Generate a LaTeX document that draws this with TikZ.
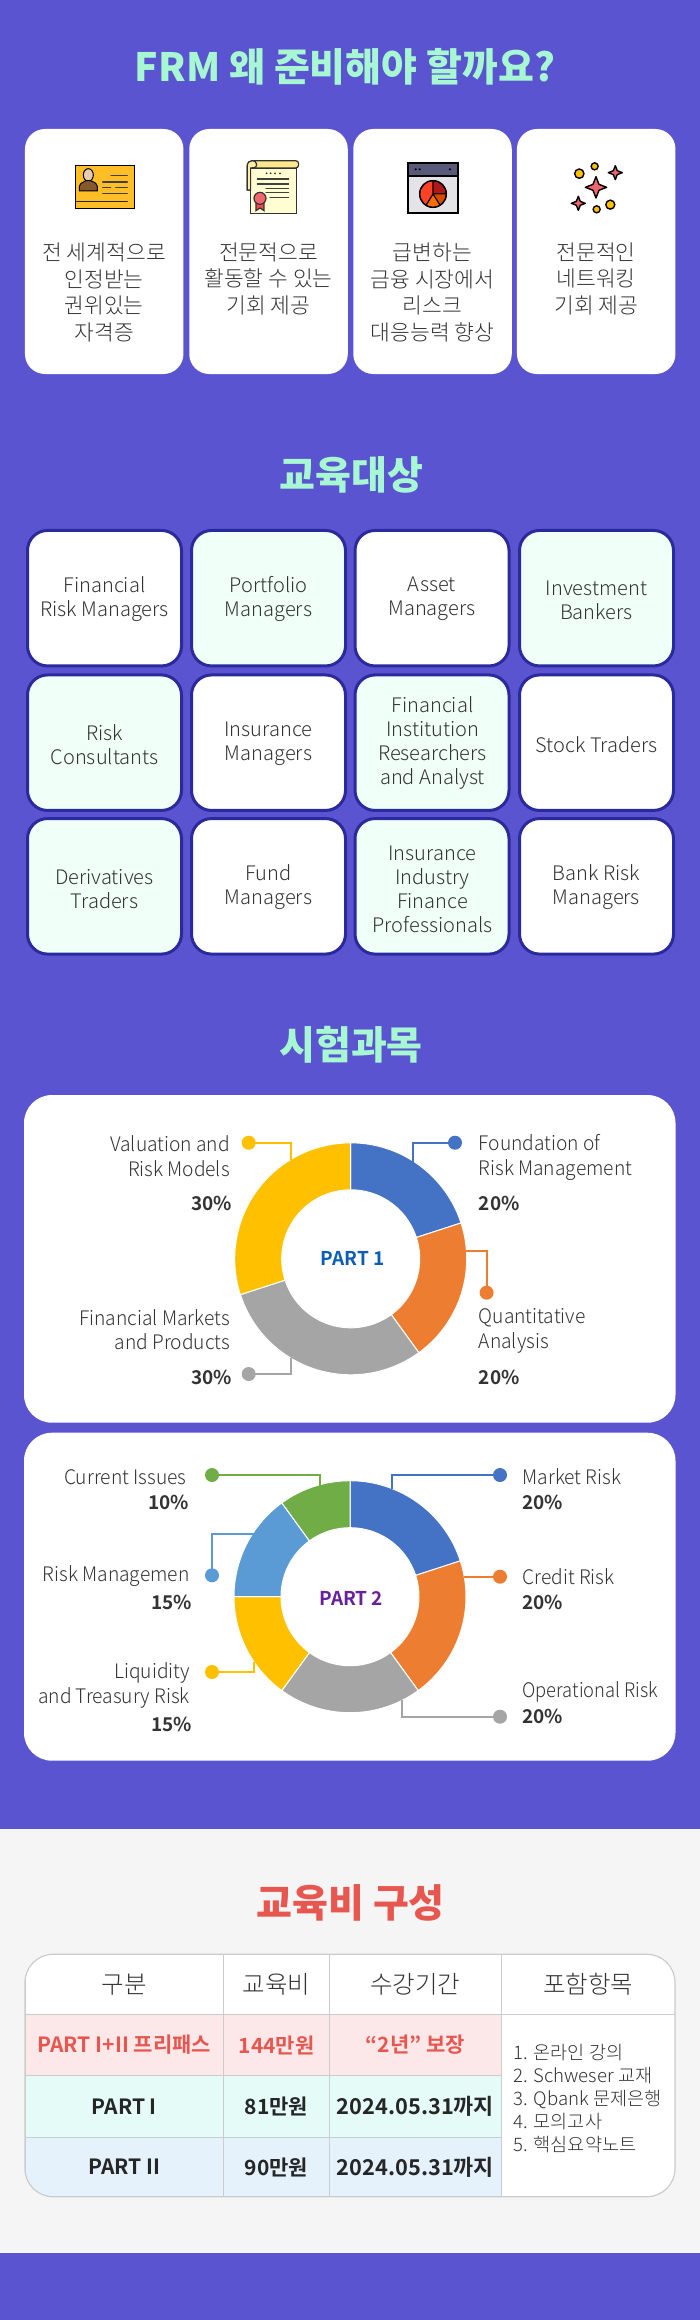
\documentclass[tikz,border=0pt]{standalone}
\usepackage{fontspec}
\setmainfont{Noto Sans CJK KR}
\newfontfamily\kl{Noto Sans CJK KR Light}
\newfontfamily\kln[FakeStretch=0.96]{Noto Sans CJK KR Light}
\newfontfamily\klnn[FakeStretch=0.915]{Noto Sans CJK KR Light}
\newfontfamily\kb{Noto Sans CJK KR Black}
\newfontfamily\kr{Noto Sans CJK KR}
\newfontfamily\kbold{Noto Sans CJK KR Bold}
\definecolor{bgp}{HTML}{5A54D0}
\definecolor{mint}{HTML}{A6F7D2}
\definecolor{edgeb}{HTML}{2B2A9C}
\definecolor{lmint}{HTML}{F0FFF8}
\definecolor{lgray}{HTML}{F5F5F5}
\definecolor{redt}{HTML}{E8574F}
\definecolor{tline}{HTML}{CCCCCC}
\definecolor{rowa}{HTML}{FCE8E8}
\definecolor{rowb}{HTML}{E4FBF7}
\definecolor{rowc}{HTML}{E5F1FB}
\definecolor{cblue}{HTML}{4472C4}
\definecolor{corange}{HTML}{ED7D31}
\definecolor{cgray}{HTML}{A5A5A5}
\definecolor{cyellow}{HTML}{FFC000}
\definecolor{clblue}{HTML}{5B9BD5}
\definecolor{cgreen}{HTML}{70AD47}
\definecolor{partb}{HTML}{0B5DB5}
\definecolor{partp}{HTML}{6A1F9B}
\definecolor{txt}{HTML}{333333}
\definecolor{sparkc}{HTML}{F0656E}
\newcommand{\lstrut}{\rule[-0.13em]{0pt}{1em}}
\newcommand{\donutseg}[5]{\fill[#5,draw=white,line width=1pt,line join=round] plot[domain=#3:#4,samples=40] ({#1+116*sin(\x)},{#2-116*cos(\x)}) -- plot[domain=#4:#3,samples=40] ({#1+69*sin(\x)},{#2-69*cos(\x)}) -- cycle;}
\newcommand{\wedgeseg}[3]{\fill[#3,draw=black,line width=1pt,line join=round] (249,162) -- plot[domain=#1:#2,samples=20] ({249+40*sin(\x)},{162-40*cos(\x)}) -- cycle;}
\newcommand{\sparkle}[3]{\filldraw[fill=sparkc,draw=black,line width=1.4pt,line join=round] ({#1},{#2-#3}) -- ({#1+.28*#3},{#2-.28*#3}) -- ({#1+#3},{#2}) -- ({#1+.28*#3},{#2+.28*#3}) -- ({#1},{#2+#3}) -- ({#1-.28*#3},{#2+.28*#3}) -- ({#1-#3},{#2}) -- ({#1-.28*#3},{#2-.28*#3}) -- cycle;}
\tikzset{
  titlet/.style={font=\kb\fontsize{39}{44}\selectfont,text=mint,inner sep=0pt},
  card/.style={fill=white,rounded corners=20pt,minimum width=158.5pt,minimum height=245pt,inner sep=0pt},
  cardt/.style={font=\kl\fontsize{21.5}{26.6}\selectfont,text=txt,align=center,inner sep=0pt,yshift=-1pt,
    execute at begin node=\lstrut,execute at end node=\lstrut},
  tbox/.style={draw=edgeb,line width=3pt,rounded corners=20pt,minimum width=154pt,minimum height=135.5pt,inner sep=0pt},
  tboxt/.style={font=\kl\fontsize{20}{24}\selectfont,text=txt,align=center,inner sep=0pt,yshift=-1.5pt,
    execute at begin node=\lstrut,execute at end node=\lstrut},
  panel/.style={fill=white,rounded corners=28pt,inner sep=0pt},
  lblr/.style={font=\kln\fontsize{20}{24.5}\selectfont,text=txt,align=right,anchor=east,inner sep=0pt,yshift=-1.5pt,
    execute at begin node=\lstrut,execute at end node=\lstrut},
  lbll/.style={font=\kln\fontsize{20}{24.5}\selectfont,text=txt,align=left,anchor=west,inner sep=0pt,yshift=-1.5pt,
    execute at begin node=\lstrut,execute at end node=\lstrut},
  pctr/.style={font=\kbold\fontsize{19}{24}\selectfont,text=txt,anchor=east,inner sep=0pt,
    execute at begin node=\lstrut,execute at end node=\lstrut},
  pctl/.style={font=\kbold\fontsize{19}{24}\selectfont,text=txt,anchor=west,inner sep=0pt,
    execute at begin node=\lstrut,execute at end node=\lstrut},
  part/.style={font=\kbold\fontsize{19}{24}\selectfont,inner sep=0pt},
  dotn/.style={circle,fill=#1,minimum size=14pt,inner sep=0pt},
  conn/.style={draw=#1,line width=2pt},
  tcell/.style={draw=tline,line width=1pt,inner sep=0pt,outer sep=0pt},
  thead/.style={tcell,fill=white,font=\kl\fontsize{24.5}{28}\selectfont,text=txt},
  trow/.style={tcell,font=\kbold\fontsize{21}{26}\selectfont,text=black!85},
  tdate/.style={tcell,font=\kbold\fontsize{21.8}{26}\selectfont,text=black!85},
  ic/.style={line width=1.2pt,line cap=round},
}
\begin{document}
\begin{tikzpicture}[x=1pt,y=-1pt]
\useasboundingbox (0,0) rectangle (700,2320);
\fill[bgp] (0,0) rectangle (700,2320);
\fill[lgray] (0,1829) rectangle (700,2252.7);

% section 1
\node[titlet] (t1) at (345,66.5) {FRM 왜 준비해야 할까요?};
\node[card] (c1) at (104.2,251.5) {};
\node[card] (c2) at (268.5,251.5) {};
\node[card] (c3) at (432.5,251.5) {};
\node[card] (c4) at (596.2,251.5) {};
\node[cardt] (c1t) at (104.2,292) {전 세계적으로\\인정받는\\권위있는\\자격증};
\node[cardt] (c2t) at (268.5,278.5) {전문적으로\\활동할 수 있는\\기회 제공};
\node[cardt] (c3t) at (432.5,292) {급변하는\\금융 시장에서\\리스크\\대응능력 향상};
\node[cardt] (c4t) at (596.2,278.5) {전문적인\\네트워킹\\기회 제공};

% icon 1
\begin{scope}[shift={(50,140)},x=0.3333pt,y=-0.3333pt]
\filldraw[fill=orange!60!yellow!85!white,draw=black,line width=1.3pt] (76,76) rectangle (254,206);
\filldraw[fill=brown!40!white,draw=black,line width=1pt] (115,105) ellipse[x radius=15,y radius=19];
\filldraw[fill=brown!70!black,draw=black,line width=1pt] (88,153) -- (88,140) .. controls (90,128) and (102,126) .. (108,122) -- (122,122) .. controls (130,126) and (140,128) .. (142,140) -- (142,153) -- cycle;
\draw[black!75,ic] (183,107) -- (232,107);
\draw[black!75,ic] (158,126) -- (232,126);
\draw[black!75,ic] (158,143) -- (182,143);
\draw[black!75,ic] (197,143) -- (232,143);
\draw[black!75,ic] (158,161) -- (232,161);
\draw[black!85,ic] (80,185) -- (232,185);
\end{scope}

% icon 2
\begin{scope}[shift={(50,140)},x=0.3333pt,y=-0.3333pt]
\filldraw[fill=orange!40!yellow!35!white,draw=black!80,line width=1.2pt] (592,150) -- (592,75) .. controls (592,66) and (600,62) .. (608,62) -- (620,62) -- (620,150) -- cycle;
\filldraw[fill=orange!8!yellow!18!white,draw=black!80,line width=1.2pt] (602,84) rectangle (740,220);
\filldraw[fill=orange!40!yellow!45!white,draw=black!80,line width=1.2pt,rounded corners=3pt] (606,62) rectangle (746,84);
\filldraw[fill=orange!40!yellow!35!white,draw=black!80,line width=1.2pt] (607,62) .. controls (598,62) and (592,68) .. (592,78) -- (592,150) -- (602,150) -- (602,84) .. controls (610,84) and (620,84) .. (620,73) .. controls (620,66) and (614,62) .. (607,62) -- cycle;
\foreach \dx in {650,662,675,690} \fill[black!80] (\dx,100) circle[radius=3];
\draw[black!75,ic] (622,117) -- (716,117);
\draw[black!75,ic] (622,132) -- (716,132);
\draw[black!75,ic] (648,145) -- (716,145);
\draw[black!75,ic] (648,158) -- (716,158);
\draw[black!75,ic] (660,172) -- (716,172);
\filldraw[fill=sparkc!70!red,draw=black!80,line width=1.2pt] (618,185) -- (618,212) -- (630,204) -- (642,212) -- (642,185) -- cycle;
\filldraw[fill=sparkc,draw=black!80,line width=1.2pt] (630,175) circle[radius=18];
\end{scope}

% icon 3
\begin{scope}[shift={(350,140)},x=0.3333pt,y=-0.3333pt]
\filldraw[fill=blue!8!gray!20!white,draw=black,line width=2pt] (173,108) rectangle (325,219);
\filldraw[fill=blue!20!black!65!white,draw=black,line width=2pt] (173,68) rectangle (325,108);
\fill[black] (197,88) circle[radius=3.5];
\fill[black] (209,88) circle[radius=3.5];
\fill[black] (300,88) circle[radius=3.5];
\wedgeseg{0}{90}{red!65!black!90!white}
\wedgeseg{90}{148}{orange!70!red!85!black}
\wedgeseg{148}{212}{orange!85!red}
\wedgeseg{212}{360}{red!75!orange!85!white}
\draw[black,line width=1.4pt] (249,162) circle[radius=40];
\end{scope}

% icon 4
\begin{scope}[shift={(350,140)},x=0.3333pt,y=-0.3333pt]
\sparkle{738}{142}{32}
\sparkle{796}{98}{21}
\sparkle{685}{190}{21}
\filldraw[fill=cyellow,draw=black,line width=1.4pt] (688,101) circle[radius=14];
\filldraw[fill=cyellow,draw=black,line width=1.4pt] (734,79) circle[radius=10.5];
\filldraw[fill=cyellow,draw=black,line width=1.4pt] (781,194) circle[radius=13.5];
\filldraw[fill=cyellow,draw=black,line width=1.4pt] (740,208) circle[radius=10.5];
\end{scope}

% section 2
\node[titlet] (t2) at (351.5,474.5) {교육대상};
\node[tbox,fill=white] (b11) at (104.5,598.2) {};
\node[tbox,fill=lmint] (b12) at (268.5,598.2) {};
\node[tbox,fill=white] (b13) at (432,598.2) {};
\node[tbox,fill=lmint] (b14) at (596.5,598.2) {};
\node[tbox,fill=lmint] (b21) at (104.5,742.7) {};
\node[tbox,fill=white] (b22) at (268.5,742.7) {};
\node[tbox,fill=lmint] (b23) at (432,742.7) {};
\node[tbox,fill=white] (b24) at (596.5,742.7) {};
\node[tbox,fill=lmint] (b31) at (104.5,886.3) {};
\node[tbox,fill=white] (b32) at (268.5,886.3) {};
\node[tbox,fill=lmint] (b33) at (432,886.3) {};
\node[tbox,fill=white] (b34) at (596.5,886.3) {};
\node[tboxt] (b11t) at (104.5,597.5) {Financial\\Risk Managers};
\node[tboxt] (b12t) at (268.5,597.5) {Portfolio\\Managers};
\node[tboxt] (b13t) at (432,597.5) {Asset\\Managers};
\node[tboxt] (b14t) at (596.5,600) {Investment\\Bankers};
\node[tboxt] (b21t) at (104.5,744.6) {Risk\\Consultants};
\node[tboxt] (b22t) at (268.5,742) {Insurance\\Managers};
\node[tboxt] (b23t) at (432.5,741.4) {Financial\\Institution\\Researchers\\and Analyst};
\node[tboxt] (b24t) at (596.5,744) {Stock Traders};
\node[tboxt] (b31t) at (104.5,888.4) {Derivatives\\Traders};
\node[tboxt] (b32t) at (268.5,885.7) {Fund\\Managers};
\node[tboxt] (b33t) at (432.5,888.8) {Insurance\\Industry\\Finance\\Professionals};
\node[tboxt] (b34t) at (596.5,885.7) {Bank Risk\\Managers};

% section 3
\node[titlet] (t3) at (351,1045) {시험과목};
\node[panel,minimum width=651.5pt,minimum height=327.7pt] (p1) at (349.75,1258.85) {};
\node[panel,minimum width=651.5pt,minimum height=328pt] (p2) at (349.75,1596.7) {};

% donut 1
\donutseg{350.7}{1258.8}{0}{72}{cblue}
\donutseg{350.7}{1258.8}{72}{144}{corange}
\donutseg{350.7}{1258.8}{144}{252}{cgray}
\donutseg{350.7}{1258.8}{252}{360}{cyellow}
\node[part,text=partb] (part1) at (352.7,1258.7) {PART 1};
\node[dotn=cblue] (d1a) at (455,1142.7) {};
\node[dotn=corange] (d1b) at (486.6,1292.7) {};
\node[dotn=cgray] (d1c) at (248.7,1374) {};
\node[dotn=cyellow] (d1d) at (248.7,1142.7) {};
\coordinate (e1a) at (413,1162);
\coordinate (e1b) at (466,1250.7);
\coordinate (e1c) at (291,1358);
\coordinate (e1d) at (291,1160);
\draw[conn=cblue] (d1a.center) -| (e1a);
\draw[conn=corange] (e1b) -| (d1b.center);
\draw[conn=cgray] (d1c.center) -| (e1c);
\draw[conn=cyellow] (d1d.center) -| (e1d);
\node[lblr] (l1d) at (230,1156) {Valuation and\\Risk Models};
\node[pctr] (v1d) at (232,1203) {30\%};
\node[lbll] (l1a) at (478.6,1156) {Foundation of\\Risk Management};
\node[pctl] (v1a) at (478.6,1203) {20\%};
\node[lblr] (l1c) at (230,1329.5) {Financial Markets\\and Products};
\node[pctr] (v1c) at (232,1377) {30\%};
\node[lbll] (l1b) at (478.6,1329.5) {Quantitative\\Analysis};
\node[pctl] (v1b) at (478.6,1377) {20\%};

% donut 2
\donutseg{350}{1596.7}{0}{72}{cblue}
\donutseg{350}{1596.7}{72}{144}{corange}
\donutseg{350}{1596.7}{144}{216}{cgray}
\donutseg{350}{1596.7}{216}{270}{cyellow}
\donutseg{350}{1596.7}{270}{324}{clblue}
\donutseg{350}{1596.7}{324}{360}{cgreen}
\node[part,text=partp] (part2) at (351.3,1598.7) {PART 2};
\node[dotn=cblue] (d2a) at (500,1475) {};
\node[dotn=corange] (d2b) at (500,1576.7) {};
\node[dotn=cgray] (d2c) at (500,1716.7) {};
\node[dotn=cyellow] (d2d) at (212,1672) {};
\node[dotn=clblue] (d2e) at (212,1575.3) {};
\node[dotn=cgreen] (d2f) at (212,1475) {};
\coordinate (e2a) at (391.5,1489.3);
\coordinate (e2b) at (464,1576.7);
\coordinate (e2c) at (401.8,1700);
\coordinate (e2d) at (254,1661.7);
\coordinate (e2e) at (253.6,1534);
\coordinate (e2f) at (320,1485.7);
\draw[conn=cblue] (d2a.center) -| (e2a);
\draw[conn=corange] (e2b) -- (d2b.center);
\draw[conn=cgray] (d2c.center) -| (e2c);
\draw[conn=cyellow] (d2d.center) -| (e2d);
\draw[conn=clblue] (d2e.center) |- (e2e);
\draw[conn=cgreen] (d2f.center) -| (e2f);
\node[lblr] (l2f) at (186.6,1475.3) {Current Issues};
\node[pctr] (v2f) at (189,1502) {10\%};
\node[lblr] (l2e) at (189.7,1573.7) {Risk Managemen};
\node[pctr] (v2e) at (192,1602.3) {15\%};
\node[lblr] (l2d) at (190,1683.7) {Liquidity\\and Treasury Risk};
\node[pctr] (v2d) at (192,1724) {15\%};
\node[lbll] (l2a) at (522.3,1475.3) {Market Risk};
\node[pctl] (v2a) at (522.3,1502) {20\%};
\node[lbll] (l2b) at (522.3,1576) {Credit Risk};
\node[pctl] (v2b) at (522.3,1602.3) {20\%};
\node[lbll,font=\klnn\fontsize{20}{24.5}\selectfont] (l2c) at (522.3,1689.3) {Operational Risk};
\node[pctl] (v2c) at (522.3,1716.3) {20\%};

% section 4
\node[titlet,text=redt] (t4) at (350.7,1903) {교육비 구성};
\begin{scope}
\clip[rounded corners=28pt] (25,1954.3) rectangle (675,2196.7);
\node[thead,minimum width=198.7pt,minimum height=60pt] (h1) at (124.35,1984.3) {구분};
\node[thead,minimum width=105.8pt,minimum height=60pt] (h2) at (276.6,1984.3) {교육비};
\node[thead,minimum width=171.8pt,minimum height=60pt] (h3) at (415.4,1984.3) {수강기간};
\node[thead,minimum width=173.7pt,minimum height=60pt] (h4) at (588.15,1984.3) {포함항목};
\node[trow,fill=rowa,text=redt,minimum width=198.7pt,minimum height=61.4pt] (r11) at (124.35,2045) {PART I+II 프리패스};
\node[trow,fill=rowa,text=redt,minimum width=105.8pt,minimum height=61.4pt] (r12) at (276.6,2045) {144만원};
\node[trow,fill=rowa,text=redt,minimum width=171.8pt,minimum height=61.4pt] (r13) at (415.4,2045) {“2년” 보장};
\node[trow,fill=rowb,minimum width=198.7pt,minimum height=61.6pt] (r21) at (124.35,2106.5) {PART I};
\node[trow,fill=rowb,minimum width=105.8pt,minimum height=61.6pt] (r22) at (276.6,2106.5) {81만원};
\node[tdate,fill=rowb,minimum width=171.8pt,minimum height=61.6pt] (r23) at (415.4,2106.5) {2024.05.31까지};
\node[trow,fill=rowc,minimum width=198.7pt,minimum height=59.4pt] (r31) at (124.35,2167) {PART II};
\node[trow,fill=rowc,minimum width=105.8pt,minimum height=59.4pt] (r32) at (276.6,2167) {90만원};
\node[tdate,fill=rowc,minimum width=171.8pt,minimum height=59.4pt] (r33) at (415.4,2167) {2024.05.31까지};
\node[tcell,fill=white,minimum width=173.7pt,minimum height=182.4pt] (r4) at (588.15,2105.5) {};
\end{scope}
\draw[tline,line width=1.2pt,rounded corners=28pt] (25,1954.3) rectangle (675,2196.7);
\node[font=\kl\fontsize{18.6}{22.8}\selectfont,text=txt,align=left,anchor=west,inner sep=0pt,yshift=-1pt,
  execute at begin node=\lstrut,execute at end node=\lstrut] (lst) at (513.4,2098) {1. 온라인 강의\\2. Schweser 교재\\3. Qbank 문제은행\\4. 모의고사\\5. 핵심요약노트};
\end{tikzpicture}
\end{document}
